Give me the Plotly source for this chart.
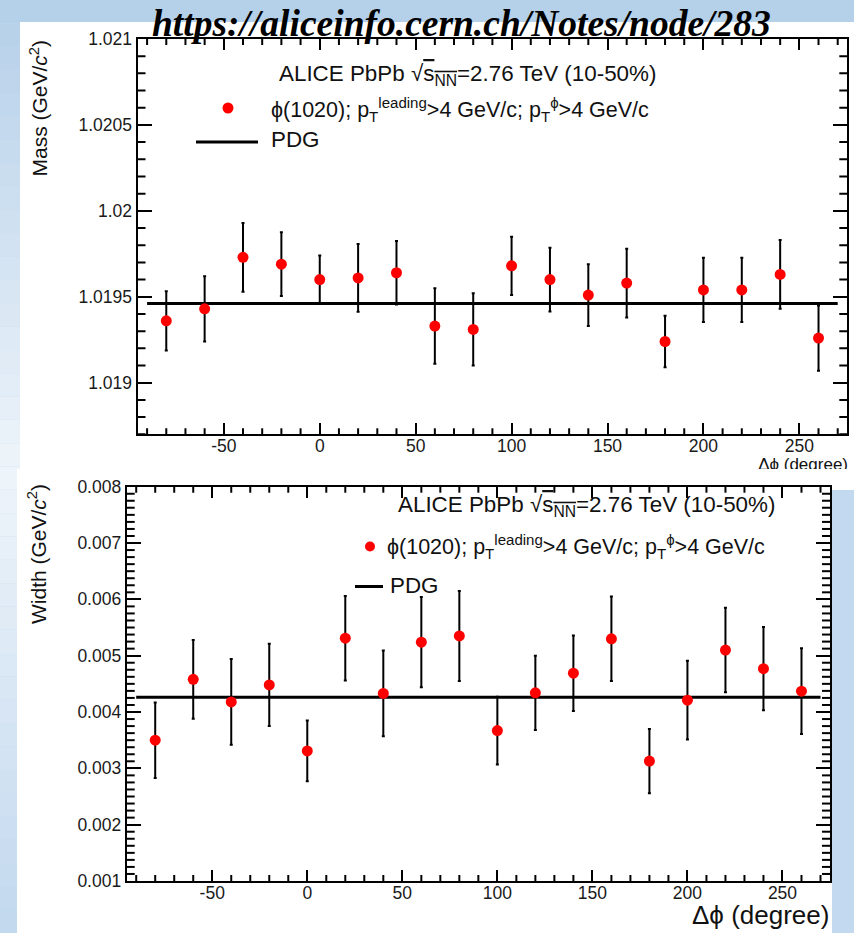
import plotly.graph_objects as go

W, H = 854, 933

# ---- data -------------------------------------------------------------
dphi = [-80, -60, -40, -20, 0, 20, 40, 60, 80, 100, 120, 140, 160, 180, 200, 220, 240, 260]

mass = [1.01936, 1.01943, 1.01973, 1.01969, 1.01960, 1.01961, 1.01964, 1.01933, 1.01931,
        1.01968, 1.01960, 1.01951, 1.01958, 1.01924, 1.01954, 1.01954, 1.01963, 1.01926]
mass_err = [0.000173, 0.00019, 0.00020, 0.000185, 0.00014, 0.000197, 0.000185, 0.00022, 0.00021,
            0.00017, 0.000185, 0.00018, 0.00020, 0.00015, 0.000187, 0.000187, 0.00020, 0.00019]

width = [0.00350, 0.00458, 0.00418, 0.00448, 0.00331, 0.00531, 0.00433, 0.00524, 0.00535,
         0.00367, 0.00434, 0.00469, 0.00530, 0.00313, 0.00421, 0.00510, 0.00477, 0.00437]
width_err = [0.00067, 0.00070, 0.00076, 0.00073, 0.00054, 0.00075, 0.00076, 0.00080, 0.00080,
             0.00060, 0.00066, 0.00067, 0.00075, 0.00057, 0.00070, 0.00075, 0.00074, 0.00076]

pdg_mass = 1.019461
pdg_width = 0.00426
pdg_span = [-90, 270]

x_range = [-95, 275]
mass_range = [1.0187, 1.021]
width_range = [0.001, 0.008]

x_tickvals = [-50, 0, 50, 100, 150, 200, 250]
x_ticktext = ["-50", "0", "50", "100", "150", "200", "250"]
mass_tickvals = [1.019, 1.0195, 1.02, 1.0205, 1.021]
mass_ticktext = ["1.019", "1.0195", "1.02", "1.0205", "1.021"]
width_tickvals = [0.001, 0.002, 0.003, 0.004, 0.005, 0.006, 0.007, 0.008]
width_ticktext = ["0.001", "0.002", "0.003", "0.004", "0.005", "0.006", "0.007", "0.008"]

# secondary tick positions (10 deg steps; 0.1 MeV and 0.125 MeV steps)
x_minor = [-90 + 10 * i for i in range(37) if (-90 + 10 * i) % 50 != 0]
mass_minor = [round(1.0187 + 0.0001 * i, 5) for i in range(24) if i % 5 != 3]
width_minor = [round(0.001 + 0.000125 * i, 6) for i in range(57) if i % 8 != 0]

SANS = "Liberation Sans, Arial, Helvetica, sans-serif"
SERIF = "Liberation Serif, Times New Roman, serif"


def fx(px):
    return px / W


def fy(py):
    return 1 - py / H


# pad frames in pixels
TOP = dict(l=137.5, r=847.3, t=39.0, b=434.3)
BOT = dict(l=126.7, r=830.0, t=486.7, b=881.0)

# ---- traces -----------------------------------------------------------
fig = go.Figure()

fig.add_trace(go.Scatter(x=pdg_span, y=[pdg_mass, pdg_mass], mode="lines",
                         line=dict(color="black", width=3), xaxis="x", yaxis="y",
                         hoverinfo="skip"))
fig.add_trace(go.Scatter(x=dphi, y=mass, mode="markers",
                         marker=dict(color="#ff0000", size=11),
                         error_y=dict(type="data", array=mass_err, color="black",
                                      thickness=2, width=1.5),
                         xaxis="x", yaxis="y"))

fig.add_trace(go.Scatter(x=pdg_span, y=[pdg_width, pdg_width], mode="lines",
                         line=dict(color="black", width=3), xaxis="x2", yaxis="y2",
                         hoverinfo="skip"))
fig.add_trace(go.Scatter(x=dphi, y=width, mode="markers",
                         marker=dict(color="#ff0000", size=11),
                         error_y=dict(type="data", array=width_err, color="black",
                                      thickness=2, width=1.5),
                         xaxis="x2", yaxis="y2"))

# x title of the upper pad, partly hidden under the lower pad
fig.add_trace(go.Scatter(x=[848], y=[466], mode="text", text=["Δϕ (degree)"],
                         textposition="middle left", cliponaxis=True,
                         textfont=dict(family=SANS, size=17, color="#111"),
                         xaxis="x3", yaxis="y3", hoverinfo="skip"))


# ---- axes -------------------------------------------------------------
def major_axis(ticklen, tickvals, ticktext, standoff=0):
    return dict(showline=True, linecolor="black", linewidth=2, mirror="ticks",
                ticks="inside", ticklen=ticklen, tickwidth=2, tickcolor="black",
                showgrid=False, zeroline=False, ticklabelstandoff=standoff,
                tickmode="array", tickvals=tickvals, ticktext=ticktext,
                tickfont=dict(family=SANS, size=17.5, color="#1a1a1a"))


layout = dict(
    width=W, height=H, autosize=False,
    margin=dict(l=0, r=0, t=0, b=0, pad=0, autoexpand=False),
    paper_bgcolor="#c4d9ee", plot_bgcolor="rgba(0,0,0,0)",
    showlegend=False,
    xaxis=dict(domain=[fx(TOP["l"]), fx(TOP["r"])], range=x_range, anchor="y",
               **major_axis(11, x_tickvals, x_ticktext, -5)),
    yaxis=dict(domain=[fy(TOP["b"]), fy(TOP["t"])], range=mass_range, anchor="x",
               **major_axis(14, mass_tickvals, mass_ticktext)),
    xaxis2=dict(domain=[fx(BOT["l"]), fx(BOT["r"])], range=x_range, anchor="y2",
                **major_axis(11, x_tickvals, x_ticktext, -5)),
    yaxis2=dict(domain=[fy(BOT["b"]), fy(BOT["t"])], range=width_range, anchor="x2",
                **major_axis(14, width_tickvals, width_ticktext)),
    xaxis3=dict(domain=[0, 1], range=[0, W], anchor="y3", visible=False),
    yaxis3=dict(domain=[fy(469), 1], range=[469, 0], anchor="x3", visible=False),
)
fig.update_layout(**layout)


# ---- slide background and pads ----------------------------------------
def mix(c1, c2, t):
    return "#" + "".join("%02x" % round(a + (b - a) * t) for a, b in zip(c1, c2))


top_c, mid_c, bot_c = (180, 207, 233), (238, 244, 250), (194, 216, 238)
shapes = []
n_bands = 40
for i in range(n_bands):
    y0 = H * i / n_bands
    y1 = H * (i + 1) / n_bands
    yc = (y0 + y1) / 2
    col = mix(top_c, mid_c, yc / 470) if yc < 470 else mix(mid_c, bot_c, (yc - 470) / (H - 470))
    shapes.append(dict(type="rect", xref="paper", yref="paper", layer="below",
                       x0=0, x1=1, y0=fy(y1), y1=fy(y0), fillcolor=col, line_width=0))
shapes.append(dict(type="rect", xref="paper", yref="paper", layer="below",
                   x0=fx(832), x1=1, y0=0, y1=fy(470), fillcolor="#c3d9ef", line_width=0))
# upper pad
shapes.append(dict(type="rect", xref="paper", yref="paper", layer="below",
                   x0=fx(20), x1=1, y0=fy(490), y1=fy(22), fillcolor="white", line_width=0))
# lower pad
shapes.append(dict(type="rect", xref="paper", yref="paper", layer="below",
                   x0=fx(17), x1=fx(832), y0=0, y1=fy(469), fillcolor="white", line_width=0))


# small ticks on all four sides of each frame, placed through the axes
def small_ticks(xa, ya, frame, xvals, yvals, xlen=6, ylen=8):
    out = []
    hx = xlen / (frame["b"] - frame["t"])
    wy = ylen / (frame["r"] - frame["l"])
    tick = dict(type="line", layer="above", line=dict(color="black", width=2))
    for v in xvals:
        for a, b in ((0, hx), (1, 1 - hx)):
            out.append(dict(tick, xref=xa, yref=ya + " domain", x0=v, x1=v, y0=a, y1=b))
    for v in yvals:
        for a, b in ((0, wy), (1, 1 - wy)):
            out.append(dict(tick, xref=xa + " domain", yref=ya, x0=a, x1=b, y0=v, y1=v))
    return out


shapes += small_ticks("x", "y", TOP, x_minor, mass_minor)
shapes += small_ticks("x2", "y2", BOT, x_minor, width_minor)

# legend glyphs
shapes.append(dict(type="circle", xref="paper", yref="paper", layer="above",
                   x0=fx(222.5), x1=fx(233.5), y0=fy(113.5), y1=fy(102.5),
                   fillcolor="#ff0000", line_width=0))
shapes.append(dict(type="line", xref="paper", yref="paper", layer="above",
                   x0=fx(196), x1=fx(258), y0=fy(142), y1=fy(142),
                   line=dict(color="black", width=3)))
shapes.append(dict(type="circle", xref="paper", yref="paper", layer="above",
                   x0=fx(365), x1=fx(375), y0=fy(551.5), y1=fy(541.5),
                   fillcolor="#ff0000", line_width=0))
shapes.append(dict(type="line", xref="paper", yref="paper", layer="above",
                   x0=fx(355), x1=fx(383), y0=fy(586.5), y1=fy(586.5),
                   line=dict(color="black", width=3)))
fig.update_layout(shapes=shapes)

# ---- texts ------------------------------------------------------------
header = "ALICE PbPb √<span style='text-decoration:overline'>s<sub>NN</sub></span>=2.76 TeV (10-50%)"
selection = ("ϕ(1020); p<sub>T</sub><sup>leading</sup>>4 GeV/c; "
             "p<sub>T</sub><sup>ϕ</sup>>4 GeV/c")
head_font = dict(family=SANS, size=22.4, color="#111")
lab_font = dict(family=SANS, size=21.5, color="#111")

annotations = [
    dict(text="<b><i>https://aliceinfo.cern.ch/Notes/node/283</i></b>",
         x=fx(461), y=fy(24), xanchor="center", yanchor="middle",
         font=dict(family=SERIF, size=37.5, color="black")),
    dict(text=header, x=fx(277), y=fy(75), xanchor="left", yanchor="middle", font=head_font),
    dict(text=selection, x=fx(269), y=fy(110), xanchor="left", yanchor="middle", font=lab_font),
    dict(text="PDG", x=fx(269), y=fy(139), xanchor="left", yanchor="middle", font=head_font),
    dict(text=header, x=fx(396), y=fy(506), xanchor="left", yanchor="middle", font=head_font),
    dict(text=selection, x=fx(385), y=fy(546), xanchor="left", yanchor="middle", font=lab_font),
    dict(text="PDG", x=fx(388), y=fy(585), xanchor="left", yanchor="middle", font=head_font),
    dict(text="Mass (GeV/<i>c</i><sup>2</sup>)", x=fx(39), y=fy(108.5), textangle=-90,
         xanchor="center", yanchor="middle", font=dict(family=SANS, size=21, color="#111")),
    dict(text="Width (GeV/<i>c</i><sup>2</sup>)", x=fx(37), y=fy(554), textangle=-90,
         xanchor="center", yanchor="middle", font=dict(family=SANS, size=21, color="#111")),
    dict(text="Δϕ (degree)", x=fx(831), y=fy(915), xanchor="right", yanchor="middle",
         font=dict(family=SANS, size=26, color="#111")),
]
for a in annotations:
    a.update(xref="paper", yref="paper", showarrow=False)
fig.update_layout(annotations=annotations)

fig.write_html("out.html")
